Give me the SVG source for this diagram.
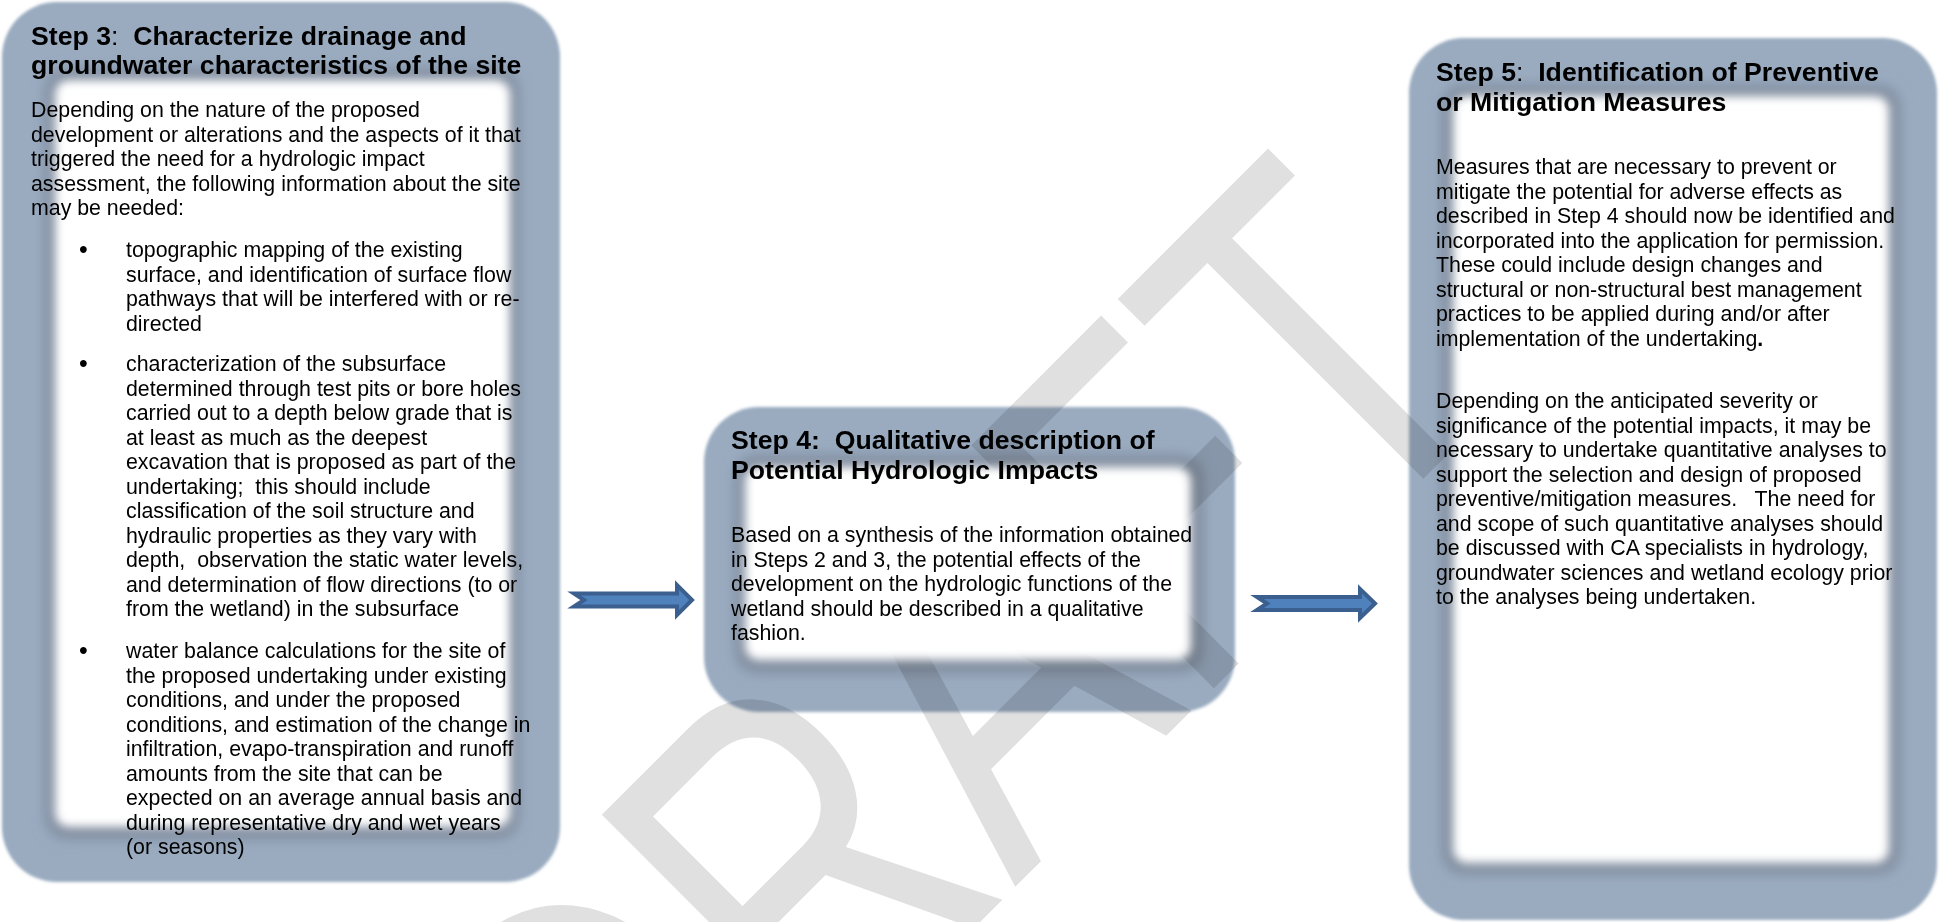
<svg xmlns="http://www.w3.org/2000/svg" width="1954" height="922" viewBox="0 0 1954 922">
<defs>
<filter id="blurOuter" x="-10%" y="-10%" width="120%" height="120%"><feGaussianBlur stdDeviation="1.5"/></filter>
<filter id="blurDark" x="-20%" y="-20%" width="140%" height="140%"><feGaussianBlur stdDeviation="7"/></filter>
<filter id="blurWhite" x="-20%" y="-20%" width="140%" height="140%"><feGaussianBlur stdDeviation="5"/></filter>
<style>
.frame{mix-blend-mode:multiply}
.outer{fill:#9aabc0;filter:url(#blurOuter)}
.dark{fill:#7e8a9b;filter:url(#blurDark)}
.white{fill:#ffffff;filter:url(#blurWhite)}
.t{font-family:"Liberation Sans",Arial,sans-serif;font-size:26.67px;font-weight:bold;fill:#000;white-space:pre}
.b{font-family:"Liberation Sans",Arial,sans-serif;font-size:21.33px;fill:#000;white-space:pre}
.bul{font-family:"Liberation Sans",Arial,sans-serif;font-size:25px;fill:#000}
.n{font-weight:normal}
.arrow{fill:#4f81bd;stroke:#3b5f8f;stroke-width:4;stroke-linejoin:miter}
.wm{font-family:"Liberation Sans",Arial,sans-serif;font-size:376px;fill:#e0e0e0}
</style>
</defs>
<rect x="0" y="0" width="1954" height="922" fill="#ffffff"/>

<g id="watermark">
<text class="wm" transform="rotate(-45) translate(-453 1345) scale(1 1.327)">DRAFT</text>
</g>

<g id="step3">
<g class="frame">
<rect class="outer" x="2" y="2" width="558" height="880" rx="55"/>
<rect class="dark" x="46" y="70" width="472" height="768" rx="20"/>
</g>
<rect class="white" x="55" y="80" width="455" height="747" rx="14"/>
<text class="t" x="31" y="45">Step 3<tspan class="n">:</tspan>  Characterize drainage and</text>
<text class="t" x="31" y="74">groundwater characteristics of the site</text>
<text class="b" x="31" y="117">Depending on the nature of the proposed</text>
<text class="b" x="31" y="141.5">development or alterations and the aspects of it that</text>
<text class="b" x="31" y="166">triggered the need for a hydrologic impact</text>
<text class="b" x="31" y="190.5">assessment, the following information about the site</text>
<text class="b" x="31" y="215">may be needed:</text>
<text class="bul" x="79" y="258">•</text>
<text class="b" x="126" y="257">topographic mapping of the existing</text>
<text class="b" x="126" y="281.5">surface, and identification of surface flow</text>
<text class="b" x="126" y="306">pathways that will be interfered with or re-</text>
<text class="b" x="126" y="330.5">directed</text>
<text class="bul" x="79" y="372">•</text>
<text class="b" x="126" y="371">characterization of the subsurface</text>
<text class="b" x="126" y="395.5">determined through test pits or bore holes</text>
<text class="b" x="126" y="420">carried out to a depth below grade that is</text>
<text class="b" x="126" y="444.5">at least as much as the deepest</text>
<text class="b" x="126" y="469">excavation that is proposed as part of the</text>
<text class="b" x="126" y="493.5">undertaking;  this should include</text>
<text class="b" x="126" y="518">classification of the soil structure and</text>
<text class="b" x="126" y="542.5">hydraulic properties as they vary with</text>
<text class="b" x="126" y="567">depth,  observation the static water levels,</text>
<text class="b" x="126" y="591.5">and determination of flow directions (to or</text>
<text class="b" x="126" y="616">from the wetland) in the subsurface</text>
<text class="bul" x="79" y="659">•</text>
<text class="b" x="126" y="658">water balance calculations for the site of</text>
<text class="b" x="126" y="682.5">the proposed undertaking under existing</text>
<text class="b" x="126" y="707">conditions, and under the proposed</text>
<text class="b" x="126" y="731.5">conditions, and estimation of the change in</text>
<text class="b" x="126" y="756">infiltration, evapo-transpiration and runoff</text>
<text class="b" x="126" y="780.5">amounts from the site that can be</text>
<text class="b" x="126" y="805">expected on an average annual basis and</text>
<text class="b" x="126" y="829.5">during representative dry and wet years</text>
<text class="b" x="126" y="854">(or seasons)</text>
</g>

<g id="step4">
<g class="frame">
<rect class="outer" x="704" y="407" width="531" height="305" rx="55"/>
<rect class="dark" x="736" y="456" width="466" height="216" rx="20"/>
</g>
<rect class="white" x="745" y="467" width="446" height="193" rx="14"/>
<text class="t" x="731" y="449">Step 4:  Qualitative description of</text>
<text class="t" x="731" y="479">Potential Hydrologic Impacts</text>
<text class="b" x="731" y="542">Based on a synthesis of the information obtained</text>
<text class="b" x="731" y="566.5">in Steps 2 and 3, the potential effects of the</text>
<text class="b" x="731" y="591">development on the hydrologic functions of the</text>
<text class="b" x="731" y="615.5">wetland should be described in a qualitative</text>
<text class="b" x="731" y="640">fashion.</text>
</g>

<g id="step5">
<g class="frame">
<rect class="outer" x="1409" y="38" width="528" height="882" rx="55"/>
<rect class="dark" x="1443" y="86" width="456" height="787" rx="20"/>
</g>
<rect class="white" x="1453" y="96" width="436" height="767" rx="14"/>
<text class="t" x="1436" y="81">Step 5<tspan class="n">:</tspan>  Identification of Preventive</text>
<text class="t" x="1436" y="111">or Mitigation Measures</text>
<text class="b" x="1436" y="174">Measures that are necessary to prevent or</text>
<text class="b" x="1436" y="198.5">mitigate the potential for adverse effects as</text>
<text class="b" x="1436" y="223">described in Step 4 should now be identified and</text>
<text class="b" x="1436" y="247.5">incorporated into the application for permission.</text>
<text class="b" x="1436" y="272">These could include design changes and</text>
<text class="b" x="1436" y="296.5">structural or non-structural best management</text>
<text class="b" x="1436" y="321">practices to be applied during and/or after</text>
<text class="b" x="1436" y="345.5">implementation of the undertaking<tspan font-weight="bold">.</tspan></text>
<text class="b" x="1436" y="408">Depending on the anticipated severity or</text>
<text class="b" x="1436" y="432.5">significance of the potential impacts, it may be</text>
<text class="b" x="1436" y="457">necessary to undertake quantitative analyses to</text>
<text class="b" x="1436" y="481.5">support the selection and design of proposed</text>
<text class="b" x="1436" y="506">preventive/mitigation measures.   The need for</text>
<text class="b" x="1436" y="530.5">and scope of such quantitative analyses should</text>
<text class="b" x="1436" y="555">be discussed with CA specialists in hydrology,</text>
<text class="b" x="1436" y="579.5">groundwater sciences and wetland ecology prior</text>
<text class="b" x="1436" y="604">to the analyses being undertaken.</text>
</g>

<g id="connectors">
<path class="arrow" d="M574,593.5 L677,593.5 L677,585 L692,600 L677,615 L677,606.5 L574,606.5 L584,600 Z"/>
<path class="arrow" d="M1257,597 L1360,597 L1360,589 L1375,603.5 L1360,618 L1360,610 L1257,610 L1267,603.5 Z"/>
</g>
</svg>
